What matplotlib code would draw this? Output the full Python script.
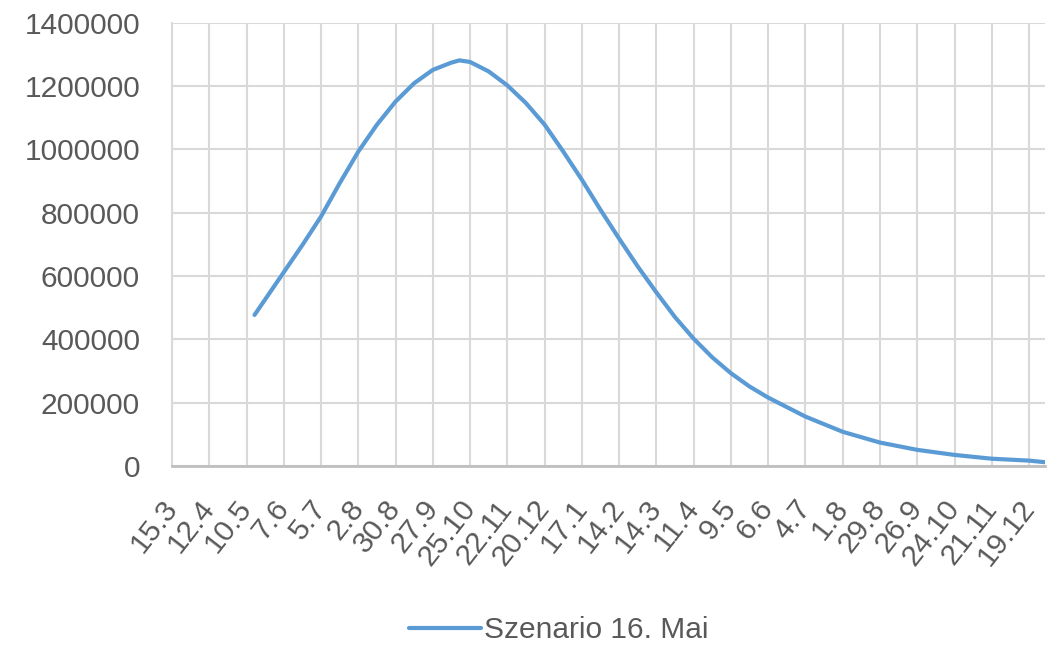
import matplotlib
matplotlib.use('Agg')
from matplotlib import pyplot as plt

# day index counted from 15.3.2020
days = [62, 84, 98, 112, 126, 140, 154, 168, 182, 196, 210, 216, 224, 238, 252,
        266, 280, 294, 308, 322, 336, 350, 364, 378, 392, 406, 420, 434, 448,
        476, 504, 532, 560, 588, 616, 644, 656]
values = [477000, 612000, 698000, 788000, 893000, 993000, 1078000, 1151000,
          1209000, 1251000, 1274000, 1281000, 1276000, 1246000, 1202000,
          1146000, 1078000, 993000, 904000, 809000, 718000, 630000, 548000,
          470000, 402000, 343000, 293000, 251000, 216000,
          156000, 108000, 74000, 51000, 35000, 23000, 17000, 12000]

tick_labels = ['15.3', '12.4', '10.5', '7.6', '5.7', '2.8', '30.8', '27.9',
               '25.10', '22.11', '20.12', '17.1', '14.2', '14.3', '11.4', '9.5',
               '6.6', '4.7', '1.8', '29.8', '26.9', '24.10', '21.11', '19.12']
tick_step = 28
last_day = 656
series_name = 'Szenario 16. Mai'

plt.rcParams['font.family'] = ['Liberation Sans', 'DejaVu Sans']
text_color = '#595959'
grid_color = '#D9D9D9'

fig = plt.figure(figsize=(10.63, 6.49), dpi=100)
ax = fig.add_axes([172/1063, 1-466/649, (1045-172)/1063, (466-22.7)/649])

ax.plot(days, values, color='#5B9BD5', linewidth=3.0, solid_capstyle='round',
        solid_joinstyle='round', label=series_name)

ax.set_xlim(0, last_day)
ax.set_ylim(0, 1400000)
ax.set_xticks([i*tick_step for i in range(len(tick_labels))])
ax.set_xticklabels(tick_labels, rotation=52, ha='right', va='center',
                   rotation_mode='anchor')
ax.set_yticks(range(0, 1400001, 200000))
ax.set_yticklabels([str(v) for v in range(0, 1400001, 200000)])

ax.tick_params(axis='both', length=0, labelsize=21.5, labelcolor=text_color)
ax.tick_params(axis='x', pad=27)
ax.tick_params(axis='y', pad=23)

ax.grid(True, color=grid_color, linewidth=1.5)
ax.set_axisbelow(True)
for side in ['top', 'right']:
    ax.spines[side].set_visible(False)
ax.spines['left'].set_color(grid_color)
ax.spines['left'].set_linewidth(1.5)
ax.spines['bottom'].set_color('#BFBFBF')
ax.spines['bottom'].set_linewidth(2)

fig.legend(loc='center', bbox_to_anchor=(559/1063, 1-630/649), frameon=False,
           fontsize=21.5, labelcolor=text_color, handlelength=2.4,
           handletextpad=0.1)

fig.savefig('out.png', dpi=100)
